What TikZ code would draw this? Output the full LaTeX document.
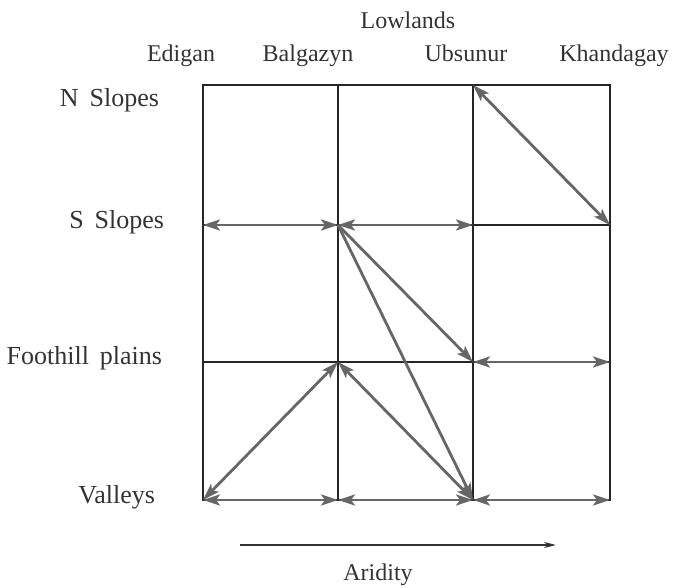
\documentclass[tikz,border=0pt]{standalone}
\usepackage{fontspec}
\setmainfont{Liberation Serif}
\usetikzlibrary{arrows.meta,positioning}
\tikzset{
  gridline/.style={line width=0.8pt,black!85},
  link/.style={line width=1.4pt,black!60,{Stealth[length=8.5pt,width=5.5pt,inset=2pt]}-{Stealth[length=8.5pt,width=5.5pt,inset=2pt]}},
  onelink/.style={line width=1.4pt,black!60,-{Stealth[length=8.5pt,width=5.5pt,inset=2pt]}},
  lbl/.style={font=\fontsize{12}{14}\selectfont,text=black!80},
  collbl/.style={lbl,anchor=base},
  rowlbl/.style={font=\fontsize{13}{15}\selectfont,text=black!80,anchor=east}
}
\begin{document}
\begin{tikzpicture}[x=0.5pt,y=-0.5pt]
  \useasboundingbox (0,0) rectangle (675,588);
  % grid points: columns E B U K, rows N S F V
  \foreach \c/\x in {E/203,B/338,U/473,K/610}
    \foreach \r/\y in {N/85,S/225,F/362,V/500}
      \coordinate (\c\r) at (\x,\y);
  \draw[gridline] (EN) rectangle (KV);
  \draw[gridline] (BN) -- (BV);
  \draw[gridline] (UN) -- (UV);
  \draw[gridline] (ES) -- (KS);
  \draw[gridline] (EF) -- (KF);
  % links
  \draw[link] (BS) -- (ES);
  \draw[link] (BS) -- (US);
  \draw[link] (UN) -- (KS);
  \draw[onelink] (BS) -- (UF);
  \draw[onelink] (BS) -- (UV);
  \draw[link] (UF) -- (KF);
  \draw[link] (BF) -- (EV);
  \draw[link] (BF) -- (UV);
  \draw[link] (EV) -- (BV);
  \draw[link] (BV) -- (UV);
  \draw[link] (UV) -- (KV);
  % labels
  \node[lbl] (low) at (408,20) {Lowlands};
  \node[collbl] (edi) at (181,62) {Edigan};
  \node[collbl] (bal) at (308,62) {Balgazyn};
  \node[collbl] (ubs) at (466,62) {Ubsunur};
  \node[collbl] (kha) at (614,62) {Khandagay};
  \node[rowlbl] (nsl) at (166,100) {N\, Slopes};
  \node[rowlbl] (ssl) at (171,222) {S\, Slopes};
  \node[rowlbl] (fpl) at (169,358) {Foothill\, plains};
  \node[rowlbl] (val) at (162,497) {Valleys};
  % aridity
  \coordinate (ar1) at (240,545);
  \coordinate (ar2) at (556,545);
  \draw[line width=0.9pt,black!80,-{Stealth[length=6pt,width=3pt]}] (ar1) -- (ar2);
  \node[lbl] (ari) at (378,575) {Aridity};
\end{tikzpicture}
\end{document}
